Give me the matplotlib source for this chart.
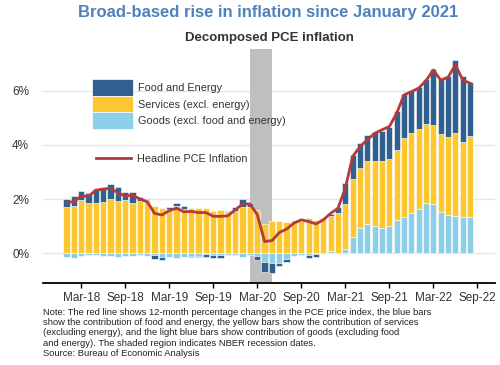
import numpy as np
import matplotlib.pyplot as plt
from matplotlib.patches import Patch
from matplotlib.lines import Line2D

plt.rcParams['font.family'] = ['Liberation Sans', 'DejaVu Sans']

# monthly, Jan 2018 - Aug 2022
months = ["Jan-18", "Feb-18", "Mar-18", "Apr-18", "May-18", "Jun-18", "Jul-18", "Aug-18", "Sep-18", "Oct-18", "Nov-18", "Dec-18",
          "Jan-19", "Feb-19", "Mar-19", "Apr-19", "May-19", "Jun-19", "Jul-19", "Aug-19", "Sep-19", "Oct-19", "Nov-19", "Dec-19",
          "Jan-20", "Feb-20", "Mar-20", "Apr-20", "May-20", "Jun-20", "Jul-20", "Aug-20", "Sep-20", "Oct-20", "Nov-20", "Dec-20",
          "Jan-21", "Feb-21", "Mar-21", "Apr-21", "May-21", "Jun-21", "Jul-21", "Aug-21", "Sep-21", "Oct-21", "Nov-21", "Dec-21",
          "Jan-22", "Feb-22", "Mar-22", "Apr-22", "May-22", "Jun-22", "Jul-22", "Aug-22"]

goods = [-0.15, -0.17, -0.12, -0.07, -0.06, -0.09, -0.10, -0.15, -0.12, -0.12, -0.07, -0.10,
         -0.07, -0.15, -0.15, -0.17, -0.15, -0.10, -0.12, -0.04, -0.06, -0.06, -0.07, -0.07,
         -0.15, -0.07, -0.12, -0.31, -0.35, -0.37, -0.22, -0.12, -0.07, -0.07, -0.05, -0.02,
         0.07, 0.00, 0.15, 0.60, 0.92, 1.06, 1.01, 0.94, 1.01, 1.23, 1.33, 1.48,
         1.63, 1.87, 1.80, 1.53, 1.40, 1.39, 1.33, 1.35]

services = [1.72, 1.75, 1.96, 1.84, 1.87, 1.88, 1.99, 1.94, 1.96, 1.87, 1.93, 1.96,
            1.75, 1.68, 1.63, 1.74, 1.64, 1.66, 1.66, 1.65, 1.56, 1.60, 1.52, 1.55,
            1.72, 1.72, 1.58, 1.08, 1.17, 1.17, 1.16, 1.21, 1.19, 1.29, 1.23, 1.31,
            1.32, 1.47, 1.67, 2.14, 2.21, 2.33, 2.41, 2.48, 2.46, 2.59, 2.92, 2.95,
            2.95, 2.91, 2.93, 2.88, 2.91, 3.04, 2.76, 2.98]

food_energy = [0.29, 0.38, 0.32, 0.37, 0.51, 0.57, 0.55, 0.50, 0.30, 0.39, 0.13, 0.03,
               -0.15, -0.10, 0.09, 0.13, 0.10, -0.05, -0.03, -0.10, -0.12, -0.11, 0.03, 0.17,
               0.27, 0.15, -0.15, -0.37, -0.37, -0.10, -0.10, 0.00, 0.00, -0.10, -0.10, -0.02,
               0.06, 0.22, 0.76, 0.88, 0.93, 0.98, 1.04, 1.11, 1.19, 1.44, 1.64, 1.58,
               1.55, 1.65, 2.07, 2.02, 2.22, 2.71, 2.46, 2.01]

headline = [1.87, 1.90, 2.11, 2.10, 2.33, 2.36, 2.40, 2.23, 2.11, 2.15, 2.00, 1.90,
            1.47, 1.41, 1.57, 1.66, 1.53, 1.54, 1.50, 1.50, 1.36, 1.36, 1.38, 1.60,
            1.81, 1.82, 1.42, 0.43, 0.46, 0.76, 0.89, 1.11, 1.23, 1.17, 1.08, 1.23,
            1.47, 1.66, 2.40, 3.57, 3.94, 4.19, 4.43, 4.56, 4.68, 5.17, 5.85, 5.97,
            6.10, 6.38, 6.77, 6.40, 6.50, 6.96, 6.40, 6.28]

tick_labels = ["Mar-18", "Sep-18", "Mar-19", "Sep-19", "Mar-20", "Sep-20", "Mar-21", "Sep-21", "Mar-22", "Sep-22"]
recession = ("Feb-20", "May-20")

C_FOOD = "#2f6090"
C_SERV = "#fdc82f"
C_GOODS = "#8dcfe8"
C_LINE = "#b73a3a"

x = np.arange(len(months))

fig = plt.figure(figsize=(5, 3.65), dpi=100)
ax = fig.add_axes([0.086, 0.225, 0.904, 0.641])

# recession shading
r0 = months.index(recession[0])
ax.axvspan(r0, r0 + 3, color="#bfbfbf", zorder=1, lw=0)

# stacked bars, positives up and negatives down
pos = np.zeros(len(x))
neg = np.zeros(len(x))
for vals, col in [(goods, C_GOODS), (services, C_SERV), (food_energy, C_FOOD)]:
    v = np.array(vals)
    bottom = np.where(v >= 0, pos, neg)
    ax.bar(x, v, bottom=bottom, width=0.85, color=col, edgecolor="white",
           linewidth=0.4, zorder=2)
    pos = pos + np.clip(v, 0, None)
    neg = neg + np.clip(v, None, 0)

ax.plot(x, headline, color=C_LINE, lw=2, zorder=3)

ax.set_xlim(-3.2, 58.4)
ax.set_ylim(-1.1, 7.55)
ax.set_yticks([0, 2, 4, 6])
ax.set_yticklabels(["0%", "2%", "4%", "6%"])
ax.yaxis.grid(True, color="#e6e6e6", lw=1, zorder=0)
ax.set_axisbelow(True)
ax.tick_params(axis="y", length=0, pad=10, labelsize=8.5, labelcolor="#333333")

tick_pos = [months.index(t) for t in tick_labels[:-1]] + [len(months)]
ax.set_xticks(tick_pos)
ax.set_xticklabels(tick_labels)
ax.tick_params(axis="x", length=3.5, width=1, pad=3, labelsize=8.5, labelcolor="#333333")

for s in ["top", "right", "left"]:
    ax.spines[s].set_visible(False)
ax.spines["bottom"].set_linewidth(1.3)

fig.text(0.536, 0.966, "Broad-based rise in inflation since January 2021",
         ha="center", va="center", fontsize=12, fontweight="bold", color="#4f81bd")
fig.text(0.538, 0.896, "Decomposed PCE inflation", ha="center", va="center",
         fontsize=9.5, fontweight="bold", color="#333333")

h1 = [Patch(facecolor=C_FOOD, edgecolor="white", lw=0.5),
      Patch(facecolor=C_SERV, edgecolor="white", lw=0.5),
      Patch(facecolor=C_GOODS, edgecolor="white", lw=0.5)]
leg1 = fig.legend(h1, ["Food and Energy", "Services (excl. energy)", "Goods (excl. food and energy)"],
                  loc="upper left", bbox_to_anchor=(92 / 500, 1 - 79 / 365), frameon=False,
                  fontsize=7.8, handlelength=3.8, handleheight=2.0, labelspacing=0,
                  handletextpad=0.4, borderpad=0, borderaxespad=0, labelcolor="#333333")
leg2 = fig.legend([Line2D([], [], color=C_LINE, lw=2)], ["Headline PCE Inflation"],
                  loc="center left", bbox_to_anchor=(96 / 500, 1 - 158.5 / 365), frameon=False,
                  fontsize=7.8, handlelength=3.2, handletextpad=0.6, borderpad=0,
                  borderaxespad=0, labelcolor="#333333")

note = ("Note: The red line shows 12-month percentage changes in the PCE price index, the blue bars\n"
        "show the contribution of food and energy, the yellow bars show the contribution of services\n"
        "(excluding energy), and the light blue bars show contribution of goods (excluding food\n"
        "and energy). The shaded region indicates NBER recession dates.\n"
        "Source: Bureau of Economic Analysis")
fig.text(0.086, 1 - 308 / 365, note, ha="left", va="top", fontsize=6.75,
         color="#222222", linespacing=1.17)

fig.savefig("out.png", dpi=100)
